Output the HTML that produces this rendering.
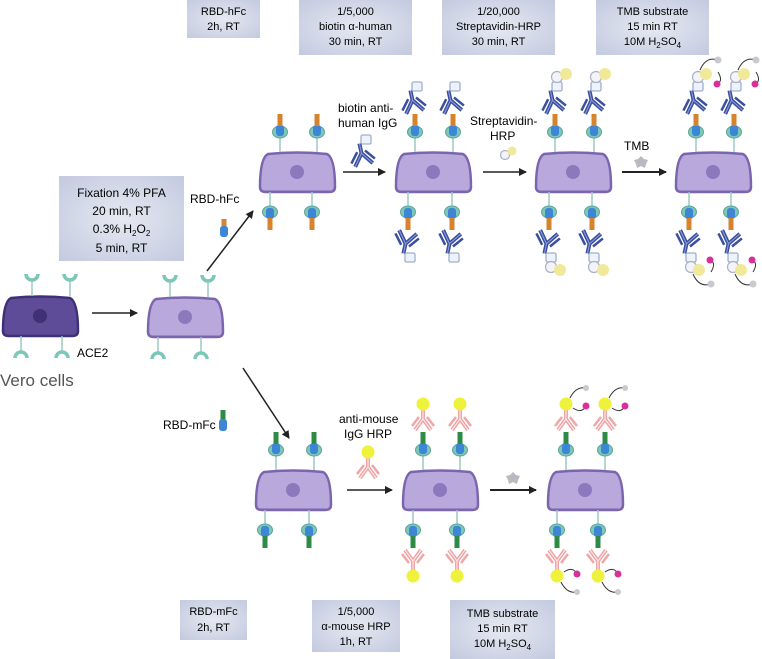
<!DOCTYPE html>
<html><head><meta charset="utf-8"><style>
html,body{margin:0;padding:0;background:#fff;}
svg{display:block;}
text{font-family:"Liberation Sans",Arial,sans-serif;}
</style></head><body>
<svg width="762" height="659" viewBox="0 0 762 659" xmlns="http://www.w3.org/2000/svg">
<defs>
<radialGradient id="bg" cx="50%" cy="50%" r="70%">
<stop offset="0" stop-color="#e6e9f2"/><stop offset="1" stop-color="#c3cadf"/>
</radialGradient>
<marker id="ah" markerWidth="8" markerHeight="8" refX="7" refY="4" orient="auto" markerUnits="userSpaceOnUse">
<path d="M0,0 L8,4 L0,8 Z" fill="#222"/>
</marker>
<path id="cshape" d="M3,35 Q3,6 11,2 Q40,-1 70,2 Q78,6 78,35 Q78,40 72,40 L9,40 Q3,40 3,35 Z"/>
<g id="cellL">
<use href="#cshape" fill="#b8a8dc" stroke="#7b66ae" stroke-width="2.5"/>
<line x1="8" y1="39.5" x2="73" y2="39.5" stroke="#7b66ae" stroke-width="2"/>
<circle cx="40" cy="20" r="7" fill="#8c78bd"/>
</g>
<g id="cellD">
<use href="#cshape" fill="#5f4c98" stroke="#3f3176" stroke-width="2.5"/>
<circle cx="40" cy="20" r="7" fill="#3f3176"/>
</g>
<g id="recE">
<line x1="0" y1="0" x2="0" y2="-16" stroke="#9cc9c3" stroke-width="1.5"/>
<path d="M-6,-22 A6,6 0 0,0 6,-22" fill="none" stroke="#7cc7b7" stroke-width="3.5"/>
</g>
<g id="bound">
<line x1="0" y1="0" x2="0" y2="-15" stroke="#9cc9c3" stroke-width="1.5"/>
<ellipse cx="0" cy="-20" rx="7.5" ry="6" fill="#7cc7b7" stroke="#5aa597" stroke-width="1"/>
<rect x="-4" y="-27" width="8" height="11" rx="3" fill="#3d86d6"/>
</g>
<g id="recH"><use href="#bound"/><rect x="-2.5" y="-38" width="5" height="12" fill="#d7822c"/></g>
<g id="recM"><use href="#bound"/><rect x="-2.5" y="-38" width="5" height="12" fill="#2e8b45"/></g>
<g id="abB">
<g transform="rotate(-12 0 -40)">
<path d="M-9,-40 L0,-52 L9,-40 M0,-52 L0,-62" fill="none" stroke="#3b4fa0" stroke-width="4"/>
<path d="M-9,-40 L0,-52 L9,-40 M0,-52 L0,-62" fill="none" stroke="#8fa0d8" stroke-width="1"/>
<path d="M-12,-44 L-4,-54 M12,-44 L4,-54" stroke="#3b4fa0" stroke-width="2.5"/>
</g>
<rect x="-3" y="-70" width="10" height="9" rx="1.5" fill="#eef2fa" stroke="#9fb0cc" stroke-width="1.3"/>
</g>
<g id="recHA"><use href="#recH"/><use href="#abB"/></g>
<g id="recHS"><use href="#recHA"/><circle cx="2" cy="-75" r="5.5" fill="#f4f4f8" stroke="#a8b2c8" stroke-width="1.2"/><circle cx="11" cy="-78" r="6" fill="#f1e99a"/></g>
<g id="tmb">
<path d="M4,-82 Q10,-96 22,-92" fill="none" stroke="#333" stroke-width="1"/>
<path d="M22,-80 Q28,-70 20,-68" fill="none" stroke="#333" stroke-width="1"/>
<circle cx="22" cy="-92" r="3.5" fill="#c9c9cf"/>
<circle cx="21" cy="-68" r="3.5" fill="#d8309a"/>
</g>
<g id="recHT"><use href="#recHA"/><circle cx="2" cy="-75" r="5.5" fill="#f4f4f8" stroke="#a8b2c8" stroke-width="1.2"/><circle cx="10" cy="-78" r="6" fill="#f1e99a"/><use href="#tmb"/></g>
<g id="abP">
<path d="M-8,-40 L0,-51 L8,-40 M0,-51 L0,-60" fill="none" stroke="#f0a6a6" stroke-width="4"/>
<path d="M-8,-40 L0,-51 L8,-40 M0,-51 L0,-60" fill="none" stroke="#fff" stroke-width="0.8"/>
<path d="M-11,-44 L-4,-53 M11,-44 L4,-53" stroke="#f0a6a6" stroke-width="2.5"/>
<circle cx="0" cy="-66" r="6.5" fill="#eef23a"/>
</g>
<g id="recMA"><use href="#recM"/><use href="#abP"/></g>
<g id="recMT"><use href="#recMA"/><path d="M4,-72 Q10,-84 20,-82" fill="none" stroke="#333" stroke-width="1"/><circle cx="20" cy="-82" r="3" fill="#c9c9cf"/><path d="M7,-62 Q16,-56 20,-64" fill="none" stroke="#333" stroke-width="1"/><circle cx="20" cy="-64" r="3.5" fill="#d8309a"/></g>
<path id="star" d="M0,-6 L3,-3 L7,-2 L5,2 L4,6 L0,4 L-4,6 L-5,2 L-7,-2 L-3,-3 Z" fill="#b9b9c0"/>
</defs>

<rect x="187" y="0" width="73" height="38" fill="url(#bg)"/>
<text x="223.5" y="15" font-size="11" text-anchor="middle">RBD-hFc</text>
<text x="223.5" y="30" font-size="11" text-anchor="middle">2h, RT</text>
<rect x="299" y="0" width="113" height="55" fill="url(#bg)"/>
<text x="355.5" y="15" font-size="11" text-anchor="middle">1/5,000</text>
<text x="355.5" y="30" font-size="11" text-anchor="middle">biotin α-human</text>
<text x="355.5" y="45" font-size="11" text-anchor="middle">30 min, RT</text>
<rect x="442" y="0" width="113" height="55" fill="url(#bg)"/>
<text x="498.5" y="15" font-size="11" text-anchor="middle">1/20,000</text>
<text x="498.5" y="30" font-size="11" text-anchor="middle">Streptavidin-HRP</text>
<text x="498.5" y="45" font-size="11" text-anchor="middle">30 min, RT</text>
<rect x="596" y="0" width="113" height="55" fill="url(#bg)"/>
<text x="652.5" y="15" font-size="11" text-anchor="middle">TMB substrate</text>
<text x="652.5" y="30" font-size="11" text-anchor="middle">15 min RT</text>
<text x="652.5" y="45" font-size="11" text-anchor="middle">10M H<tspan font-size="8" dy="3">2</tspan><tspan dy="-3">SO</tspan><tspan font-size="8" dy="3">4</tspan></text>

<rect x="59" y="176" width="125" height="85" fill="url(#bg)"/>
<text x="121.5" y="197" font-size="12" text-anchor="middle">Fixation 4% PFA</text>
<text x="121.5" y="215" font-size="12" text-anchor="middle">20 min, RT</text>
<text x="121.5" y="233" font-size="12" text-anchor="middle">0.3% H<tspan font-size="8" dy="3">2</tspan><tspan dy="-3">O</tspan><tspan font-size="8" dy="3">2</tspan></text>
<text x="121.5" y="252" font-size="12" text-anchor="middle">5 min, RT</text>

<use href="#cellD" x="0" y="296"/>
<use href="#recE" transform="translate(32,296)"/>
<use href="#recE" transform="translate(70,296)"/>
<use href="#recE" transform="translate(21,336) scale(1,-1)"/>
<use href="#recE" transform="translate(62,336) scale(1,-1)"/>
<text x="77" y="357" font-size="12">ACE2</text>
<text x="0" y="386" font-size="17" fill="#555">Vero cells</text>
<line x1="92" y1="313" x2="137" y2="313" stroke="#222" stroke-width="1.5" marker-end="url(#ah)"/>

<use href="#cellL" x="145" y="297"/>
<use href="#recE" transform="translate(170,297)"/>
<use href="#recE" transform="translate(208,297)"/>
<use href="#recE" transform="translate(158,337) scale(1,-1)"/>
<use href="#recE" transform="translate(201,337) scale(1,-1)"/>

<line x1="207" y1="271" x2="253" y2="211" stroke="#222" stroke-width="1.5" marker-end="url(#ah)"/>
<text x="190" y="203" font-size="12">RBD-hFc</text>
<g transform="translate(224,233)"><rect x="-2.5" y="-14" width="5" height="8" fill="#d7822c"/><rect x="-4" y="-7" width="8" height="11" rx="3" fill="#3d86d6"/></g>

<line x1="243" y1="368" x2="289" y2="438" stroke="#222" stroke-width="1.5" marker-end="url(#ah)"/>
<text x="163" y="429" font-size="12">RBD-mFc</text>
<g transform="translate(223,426)"><rect x="-2.5" y="-16" width="5" height="10" fill="#2e8b45"/><rect x="-4" y="-7" width="8" height="12" rx="3" fill="#3d86d6"/></g>

<use href="#cellL" x="257" y="152"/>
<use href="#recH" transform="translate(280,152)"/>
<use href="#recH" transform="translate(317,152)"/>
<use href="#recH" transform="translate(270,192) scale(1,-1)"/>
<use href="#recH" transform="translate(312,192) scale(1,-1)"/>

<text x="338" y="112" font-size="12">biotin anti-</text>
<text x="338" y="127" font-size="12">human IgG</text>
<g transform="translate(364,205)"><use href="#abB"/></g>
<line x1="343" y1="172" x2="385" y2="172" stroke="#222" stroke-width="1.5" marker-end="url(#ah)"/>

<use href="#cellL" x="393" y="152"/>
<use href="#recHA" transform="translate(415,152)"/>
<use href="#recHA" transform="translate(453,152)"/>
<use href="#recHA" transform="translate(408,192) scale(1,-1)"/>
<use href="#recHA" transform="translate(452,192) scale(1,-1)"/>

<text x="470" y="125" font-size="12">Streptavidin-</text>
<text x="490" y="140" font-size="12">HRP</text>
<circle cx="505" cy="155" r="4.5" fill="#f4f4f8" stroke="#a8b2c8" stroke-width="1.2"/>
<circle cx="512" cy="151" r="4.5" fill="#f1e99a"/>
<line x1="483" y1="172" x2="526" y2="172" stroke="#222" stroke-width="1.5" marker-end="url(#ah)"/>

<use href="#cellL" x="533" y="152"/>
<use href="#recHS" transform="translate(555,152)"/>
<use href="#recHS" transform="translate(594,152)"/>
<use href="#recHS" transform="translate(549,192) scale(1,-1)"/>
<use href="#recHS" transform="translate(592,192) scale(1,-1)"/>

<text x="624" y="150" font-size="12">TMB</text>
<use href="#star" x="641" y="162"/>
<line x1="622" y1="172" x2="666" y2="172" stroke="#222" stroke-width="2" marker-end="url(#ah)"/>

<use href="#cellL" x="673" y="152"/>
<use href="#recHT" transform="translate(696,152)"/>
<use href="#recHT" transform="translate(734,152)"/>
<use href="#recHT" transform="translate(689,192) scale(1,-1)"/>
<use href="#recHT" transform="translate(731,192) scale(1,-1)"/>

<use href="#cellL" x="253" y="470"/>
<use href="#recM" transform="translate(276,470)"/>
<use href="#recM" transform="translate(314,470)"/>
<use href="#recM" transform="translate(265,510) scale(1,-1)"/>
<use href="#recM" transform="translate(309,510) scale(1,-1)"/>

<text x="339" y="423" font-size="12">anti-mouse</text>
<text x="344" y="438" font-size="12">IgG HRP</text>
<g transform="translate(368,518)"><use href="#abP"/></g>
<line x1="347" y1="490" x2="392" y2="490" stroke="#222" stroke-width="1.5" marker-end="url(#ah)"/>

<use href="#cellL" x="400" y="470"/>
<use href="#recMA" transform="translate(423,470)"/>
<use href="#recMA" transform="translate(460,470)"/>
<use href="#recMA" transform="translate(413,510) scale(1,-1)"/>
<use href="#recMA" transform="translate(457,510) scale(1,-1)"/>

<use href="#star" x="513" y="478"/>
<line x1="490" y1="490" x2="536" y2="490" stroke="#222" stroke-width="2" marker-end="url(#ah)"/>

<use href="#cellL" x="545" y="470"/>
<use href="#recMT" transform="translate(566,470)"/>
<use href="#recMT" transform="translate(605,470)"/>
<use href="#recMT" transform="translate(557,510) scale(1,-1)"/>
<use href="#recMT" transform="translate(598,510) scale(1,-1)"/>

<rect x="180" y="600" width="67" height="40" fill="url(#bg)"/>
<text x="213.5" y="615" font-size="11" text-anchor="middle">RBD-mFc</text>
<text x="213.5" y="631" font-size="11" text-anchor="middle">2h, RT</text>
<rect x="312" y="600" width="88" height="52" fill="url(#bg)"/>
<text x="356" y="615" font-size="11" text-anchor="middle">1/5,000</text>
<text x="356" y="630" font-size="11" text-anchor="middle">α-mouse HRP</text>
<text x="356" y="645" font-size="11" text-anchor="middle">1h, RT</text>
<rect x="450" y="600" width="105" height="59" fill="url(#bg)"/>
<text x="502.5" y="617" font-size="11" text-anchor="middle">TMB substrate</text>
<text x="502.5" y="632" font-size="11" text-anchor="middle">15 min RT</text>
<text x="502.5" y="647" font-size="11" text-anchor="middle">10M H<tspan font-size="8" dy="3">2</tspan><tspan dy="-3">SO</tspan><tspan font-size="8" dy="3">4</tspan></text>
</svg>
</body></html>
